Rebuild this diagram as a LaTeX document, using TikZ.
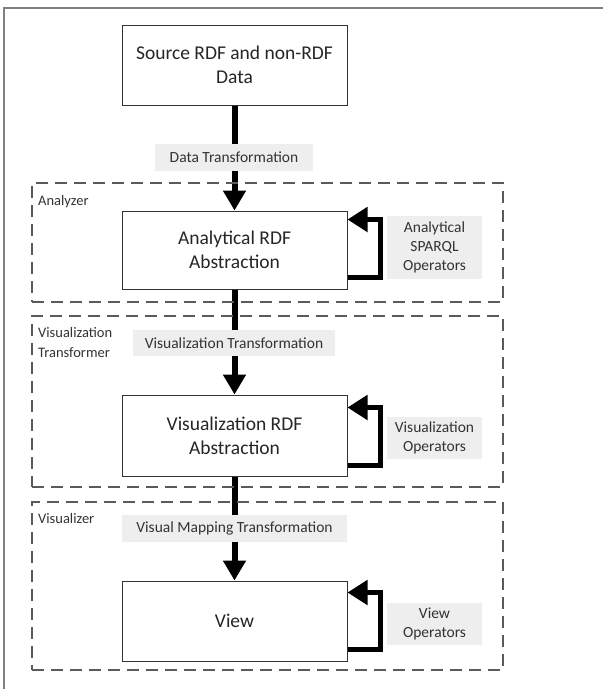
\documentclass[tikz,border=0pt]{standalone}
\usepackage{fontspec}
\setmainfont{Carlito}
\usetikzlibrary{arrows.meta,backgrounds}
\definecolor{lblbg}{HTML}{EEEEEE}
\definecolor{dashc}{HTML}{5A5A5A}
\begin{document}
\begin{tikzpicture}[x=1pt,y=-1pt,
  mainbox/.style={draw=black!80,line width=1pt,fill=white,minimum width=225pt,minimum height=80pt,inner sep=0pt,align=center,font=\fontsize{19.5}{24}\selectfont,text=black!85},
  lbl/.style={fill=lblbg,inner sep=0pt,align=center,font=\fontsize{15.5}{19}\selectfont,text=black!80},
  groupbox/.style={draw=dashc,line width=1.2pt,dash pattern=on 12pt off 7pt,minimum width=471pt,inner sep=0pt},
  grouplbl/.style={anchor=north west,inner sep=0pt,align=left,font=\fontsize{14.5}{20}\selectfont,text=black!80},
  flow/.style={line width=6pt,-{Triangle[length=20pt,width=22pt]}},
  loopar/.style={line width=5.5pt,line join=miter,-{Triangle[length=20pt,width=24pt]}}
]
\useasboundingbox (0,0) rectangle (603,689);
\draw[gray,line width=1.5pt] (4,689) -- (4,8) -- (603,8);

% group boxes
\node[groupbox,minimum height=119pt] (g1) at (267.5,242.5) {};
\node[groupbox,minimum height=171pt] (g2) at (267.5,401.5) {};
\node[groupbox,minimum height=168pt] (g3) at (267.5,586) {};
\node[grouplbl] (g1l) at (38,195) {Analyzer};
\node[grouplbl] (g2l) at (38,327) {Visualization\\Transformer};
\node[grouplbl] (g3l) at (38,513) {Visualizer};

% main boxes
\node[mainbox] (src) at (234.5,65) {Source RDF and non-RDF\\Data};
\node[mainbox,minimum height=78pt] (ana) at (234.5,250) {Analytical RDF\\Abstraction};
\node[mainbox,minimum height=81pt] (vis) at (234.5,435.5) {Visualization RDF\\Abstraction};
\node[mainbox] (view) at (234.5,621) {View};

% labels
\node[lbl,minimum width=158pt,minimum height=27pt] (dtl) at (234,157.5) {Data Transformation};
\node[lbl,minimum width=202pt,minimum height=26pt] (vtl) at (234,343) {Visualization Transformation};
\node[lbl,minimum width=225pt,minimum height=27pt] (vml) at (234.5,528.5) {Visual Mapping Transformation};
\node[lbl,minimum width=95pt,minimum height=63pt] (aop) at (434.5,247.5) {Analytical\\SPARQL\\Operators};
\node[lbl,minimum width=95pt,minimum height=42pt] (vop) at (434.5,438) {Visualization\\Operators};
\node[lbl,minimum width=95pt,minimum height=42pt] (wop) at (434.5,624) {View\\Operators};

\begin{scope}[on background layer]
\draw[flow] (src.south) -- (ana.north);
\draw[flow] (ana.south) -- (vis.north);
\draw[flow] (vis.south) -- (view.north);
\end{scope}

\draw[loopar] ([yshift=12pt]ana.south east) -- ++(33,0) |- ([yshift=-9pt]ana.north east);
\draw[loopar] ([yshift=11pt]vis.south east) -- ++(33,0) |- ([yshift=-13pt]vis.north east);
\draw[loopar] ([yshift=12pt]view.south east) -- ++(33,0) |- ([yshift=-12pt]view.north east);
\end{tikzpicture}
\end{document}
